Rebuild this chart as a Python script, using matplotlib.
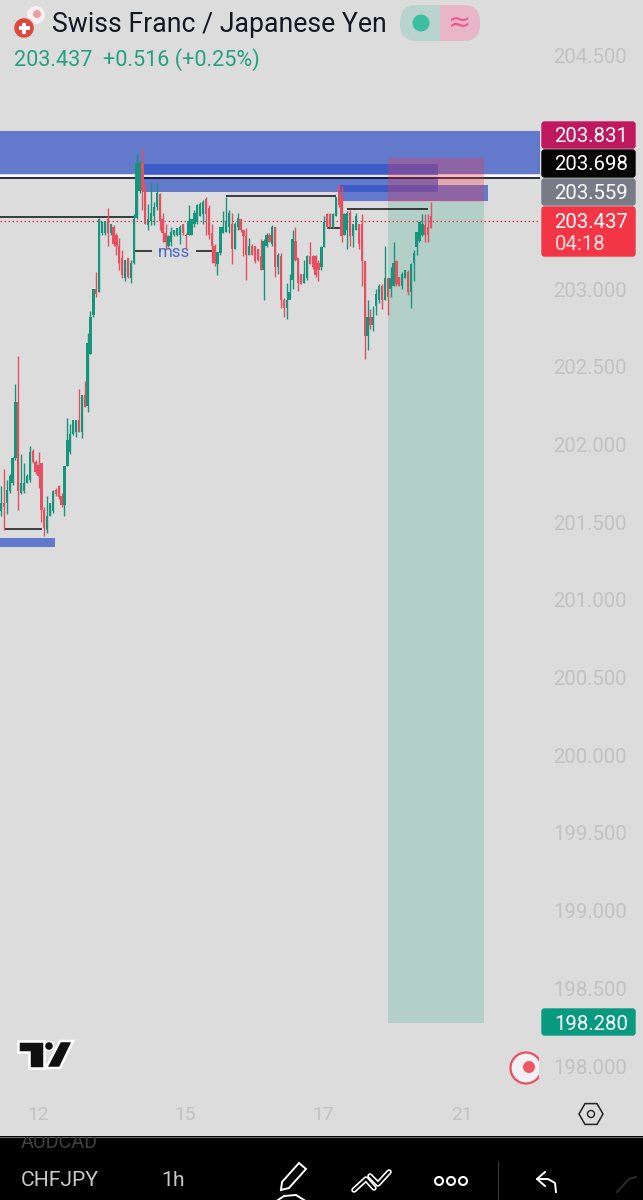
import matplotlib
matplotlib.use("Agg")
import matplotlib.pyplot as plt
import numpy as np
from matplotlib.patches import FancyBboxPatch, Rectangle, Circle, Polygon

plt.rcParams['font.family'] = ['Roboto', 'DejaVu Sans']

# ---------- data (prices) ----------
candle_high = [
 201.73,201.84,201.77,201.81,201.92,202.39,202.57,201.94,201.88,201.81,
 201.99,201.97,201.90,201.95,201.88,201.60,201.67,201.62,201.71,201.72,
 201.74,201.69,201.86,202.17,202.13,202.16,202.16,202.36,202.32,202.41,
 202.72,202.86,203.00,203.11,203.46,203.44,203.44,203.52,203.42,203.41,
 203.36,203.33,203.25,203.19,203.20,203.19,203.48,203.87,203.83,203.91,
 203.68,203.55,203.68,203.56,203.68,203.62,203.49,203.42,203.35,203.40,
 203.38,203.39,203.41,203.42,203.36,203.54,203.45,203.51,203.55,203.56,
 203.57,203.59,203.54,203.42,203.29,203.24,203.40,203.50,203.59,203.51,
 203.49,203.43,203.49,203.45,203.38,203.39,203.33,203.29,203.28,203.26,
 203.32,203.32,203.36,203.36,203.41,203.40,203.23,203.23,202.94,203.04,
 203.10,203.38,203.40,203.20,203.10,203.19,203.22,203.30,203.22,203.22,
 203.19,203.28,203.47,203.49,203.49,203.49,203.59,203.67,203.66,203.49,
 203.50,203.51,203.42,203.49,203.42,203.48,203.18,202.93,202.87,202.89,
 203.00,203.03,203.03,203.28,203.07,203.14,203.30,203.19,203.08,203.11,
 203.12,203.12,203.17,203.25,203.37,203.43,203.48,203.48,203.48,203.56]
candle_low = [
 201.54,201.45,201.55,201.69,201.74,201.90,201.58,201.68,201.69,201.75,
 201.76,201.88,201.81,201.72,201.50,201.41,201.43,201.54,201.56,201.67,
 201.65,201.60,201.54,201.86,201.94,202.06,202.05,202.08,202.04,202.24,
 202.21,202.58,202.82,202.95,202.98,203.35,203.35,203.28,203.35,203.28,
 203.22,203.12,203.07,203.05,203.07,203.04,203.16,203.45,203.62,203.51,
 203.42,203.38,203.41,203.41,203.51,203.38,203.30,203.26,203.27,203.28,
 203.34,203.34,203.29,203.35,203.26,203.35,203.35,203.40,203.42,203.47,
 203.42,203.35,203.32,203.17,203.15,203.09,203.22,203.36,203.37,203.36,
 203.16,203.26,203.38,203.37,203.21,203.06,203.22,203.22,203.17,203.18,
 203.12,202.93,203.27,203.30,203.28,203.08,203.10,202.88,202.82,202.81,
 202.94,203.00,203.18,202.99,203.03,203.04,203.06,203.16,203.13,203.08,
 203.05,203.12,203.27,203.39,203.39,203.39,203.47,203.53,203.30,203.35,
 203.26,203.28,203.27,203.38,203.26,203.02,202.55,202.61,202.74,202.73,
 202.83,202.91,202.87,202.93,202.83,202.95,203.02,203.02,203.02,203.00,
 203.07,202.96,202.88,203.05,203.22,203.30,203.34,203.30,203.30,203.39]
body_top = [
 201.62,201.62,201.71,201.80,201.91,202.27,202.27,201.75,201.75,201.80,
 201.95,201.96,201.89,201.87,201.88,201.58,201.54,201.62,201.70,201.71,
 201.73,201.67,201.86,202.03,202.07,202.16,202.16,202.16,202.32,202.32,
 202.65,202.82,203.00,203.00,203.45,203.43,203.44,203.45,203.42,203.40,
 203.35,203.28,203.20,203.19,203.20,203.17,203.45,203.81,203.81,203.81,
 203.63,203.45,203.49,203.53,203.62,203.61,203.45,203.36,203.34,203.37,
 203.38,203.39,203.40,203.42,203.35,203.44,203.45,203.49,203.54,203.55,
 203.56,203.58,203.52,203.36,203.28,203.24,203.40,203.40,203.44,203.49,
 203.42,203.42,203.46,203.45,203.38,203.34,203.28,203.28,203.28,203.26,
 203.21,203.31,203.35,203.35,203.40,203.40,203.22,203.21,202.93,202.93,
 202.98,203.32,203.31,203.20,203.10,203.10,203.21,203.21,203.21,203.21,
 203.17,203.27,203.43,203.48,203.48,203.48,203.59,203.66,203.59,203.48,
 203.49,203.49,203.42,203.47,203.42,203.42,203.18,202.82,202.82,202.82,
 202.97,203.02,203.02,203.07,203.07,203.07,203.17,203.18,203.08,203.10,
 203.12,203.11,203.16,203.23,203.37,203.43,203.42,203.41,203.40,203.47]
body_bottom = [
 201.57,201.60,201.62,201.70,201.75,201.91,201.70,201.69,201.70,201.75,
 201.77,201.89,201.82,201.80,201.58,201.46,201.45,201.54,201.57,201.68,
 201.66,201.61,201.61,201.86,201.95,202.07,202.08,202.08,202.08,202.24,
 202.25,202.58,202.83,202.97,202.98,203.36,203.36,203.36,203.36,203.29,
 203.28,203.17,203.09,203.07,203.08,203.07,203.17,203.46,203.63,203.63,
 203.42,203.41,203.44,203.47,203.53,203.44,203.36,203.30,203.28,203.30,
 203.35,203.35,203.35,203.36,203.34,203.35,203.35,203.42,203.43,203.47,
 203.48,203.48,203.35,203.28,203.17,203.16,203.23,203.36,203.37,203.40,
 203.26,203.26,203.40,203.38,203.34,203.22,203.22,203.22,203.18,203.19,
 203.12,203.12,203.28,203.30,203.29,203.14,203.14,202.93,202.88,202.88,
 202.93,203.06,203.19,203.04,203.03,203.04,203.07,203.16,203.14,203.09,
 203.12,203.14,203.27,203.40,203.40,203.40,203.47,203.54,203.34,203.35,
 203.38,203.34,203.34,203.38,203.29,203.18,202.70,202.70,202.77,202.77,
 202.89,202.93,202.93,202.93,202.95,203.00,203.02,203.03,203.02,203.02,
 203.07,202.98,202.98,203.17,203.27,203.31,203.35,203.35,203.35,203.39]
candle_dir = ("GRGGGGRGGG" "GRRRRRGGGR" "RRGGGGGRGR" "GGGRGGGRGR" "RRRGRGGGGR"
              "RGGGGRRRGG" "GGGRRGGGGG" "GRRRRGGGGG" "RGGRRRGRRR" "RGGRGRGRRG"
              "GGRRRGGRRR" "RGGRRGGRRG" "GRGGRRRGRG" "GGRGRGGRRG" "GRGGGGGRRR")

price_ticks = [204.5, 203.0, 202.5, 202.0, 201.5, 201.0, 200.5, 200.0, 199.5, 199.0, 198.5, 198.0]
date_labels = ["12", "15", "17", "21"]
date_positions = [12.8, 63.8, 111.6, 159.6]

stop_price, entry_price, target_price, last_price, line_price = 203.845, 203.559, 198.280, 203.44, 203.712

# (left bar, right bar, low price, high price)
zones = [(-0.35, 186.8, 203.74, 204.017),
         (48.9, 151.4, 203.625, 203.805),
         (117.1, 168.7, 203.567, 203.67),
         (-0.35, 18.7, 201.34, 201.40)]
# (left bar, right bar, price)
levels = [(-0.35, 46.1, 203.465), (78, 116, 203.60), (119.9, 148, 203.515),
          (113, 118.2, 203.39), (46.1, 52.3, 203.245), (67.6, 73.8, 203.245),
          (1, 14.2, 201.456)]

BG = "#dcdcdc"
GREEN, RED = "#15957c", "#e54f60"

# ---------- main chart ----------
fig = plt.figure(figsize=(6.43, 12.0), dpi=100, facecolor=BG)
ax = fig.add_axes([0, 0, 1, 1], facecolor=BG)
ax.set_xlim(-0.347, 222.44)
ax.set_ylim(197.138, 204.860)
for s in ax.spines.values():
    s.set_visible(False)

ax.yaxis.tick_right()
ax.set_yticks(price_ticks, [f"{p:.3f}" for p in price_ticks])
ax.set_xticks(date_positions, date_labels)
ax.tick_params(axis='y', length=0, pad=-64.5, labelsize=14.7, labelcolor="#c2c2c2")
ax.tick_params(axis='x', length=0, pad=-67.5, labelsize=13.8, labelcolor="#c2c2c2")

for x0, x1, lo, hi in zones:
    ax.add_patch(Rectangle((x0, lo), x1 - x0, hi - lo, fc="#2e4fc6", alpha=0.7, lw=0, zorder=1))

ax.hlines(203.728, -0.35, 186.8, color="white", lw=1.2, zorder=1.5)
ax.hlines(line_price, -0.35, 186.8, color="#0c0c28", lw=1.2, zorder=1.6)

box_l, box_r = 134.1, 167.4
ax.add_patch(Rectangle((box_l, entry_price), box_r - box_l, stop_price - entry_price,
                       fc="#f2384c", alpha=0.3, lw=0, zorder=2))
ax.add_patch(Rectangle((box_l, target_price), box_r - box_l, entry_price - target_price,
                       fc="#38ac90", alpha=0.25, lw=0, zorder=2))

for x0, x1, p in levels:
    ax.hlines(p, x0, x1, color="#111111", lw=1.1, zorder=2.5)
ax.hlines(last_price, -0.35, 186.8, color="#f23645", lw=0.9, linestyles=(0, (1.2, 2)), zorder=2.6)
ax.text(60, 203.235, "mss", color="#4a66cc", fontsize=12.2, ha="center", va="center", zorder=3)

idx = np.arange(len(candle_high))
cols = [GREEN if d == "G" else RED for d in candle_dir]
ax.vlines(idx, candle_low, candle_high, colors=cols, lw=1.0, zorder=3)
ax.bar(idx, np.array(body_top) - np.array(body_bottom), bottom=body_bottom,
       width=0.8, color=cols, lw=0, zorder=3.1)

# ---------- interface layer in pixel coordinates ----------
ui = fig.add_axes([0, 0, 1, 1], facecolor="none")
ui.set_xlim(0, 643)
ui.set_ylim(1200, 0)
ui.axis("off")

def tag(y0, y1, color):
    ui.add_patch(FancyBboxPatch((542, y0 + 1), 93, y1 - y0 - 2, boxstyle="round,pad=0,rounding_size=2.5",
                                mutation_aspect=1, fc=color, ec=color, lw=1))

tag(121, 149, "#c0185e"); tag(149, 178, "#050505"); tag(178, 206, "#787b86")
tag(206, 257, "#f23645"); tag(1008, 1036, "#089981")
for txt, y in [("203.831", 136.5), ("203.698", 165), ("203.559", 193.5), ("203.437", 222.5), ("198.280", 1024)]:
    ui.text(591, y, txt, color="white", fontsize=14.7, ha="center", va="center")
ui.text(555, 245, "04:18", color="#fbdcdf", fontsize=14.7, ha="left", va="center")

# header
ui.text(52, 24, "Swiss Franc / Japanese Yen", color="#131722", fontsize=19.2, ha="left", va="center")
ui.text(14, 60, "203.437", color="#26a17f", fontsize=15.6, ha="left", va="center")
ui.text(103, 60, "+0.516 (+0.25%)", color="#26a17f", fontsize=15.6, ha="left", va="center")
ui.add_patch(Circle((36, 15), 9, fc="#f6f0f0", ec="none"))
ui.add_patch(Circle((37, 14), 4, fc="#ef9aa0", ec="none"))
ui.add_patch(Circle((24, 28), 10.5, fc="#e0483e", ec="#dcdcdc", lw=1))
ui.add_patch(Rectangle((18.5, 26), 11, 4, fc="white", lw=0))
ui.add_patch(Rectangle((22, 22.5), 4, 11, fc="white", lw=0))
ui.add_patch(FancyBboxPatch((400, 5), 80, 36, boxstyle="round,pad=0,rounding_size=17", fc="#b9d3cf", ec="none"))
pink = FancyBboxPatch((400, 5), 80, 36, boxstyle="round,pad=0,rounding_size=17", fc="#e9b6c8", ec="none")
ui.add_patch(pink)
pink.set_clip_path(Rectangle((440, 0), 60, 60, transform=ui.transData))
ui.add_patch(Circle((421, 23), 8.5, fc="#3dbf9f", ec="none"))
ui.text(459, 23, "≈", color="#ef5a94", fontsize=20, ha="center", va="center", family=["DejaVu Sans"])

# TradingView logo
for pts in ([(18, 1041), (44, 1041), (44, 1068), (29, 1068), (29, 1052), (18, 1052)],
            [(60, 1041), (73, 1041), (60, 1068), (46, 1068)]):
    ui.add_patch(Polygon(pts, closed=True, fc="#101010", ec="white", lw=1.8, joinstyle="miter"))
ui.add_patch(Circle((49, 1046), 4.5, fc="#101010", ec="white", lw=1.0))

# record button
ring = Circle((526, 1068), 15.5, fc="#f1f1f5", ec="#e8505f", lw=1.6)
ui.add_patch(ring)
ring.set_clip_path(Rectangle((500, 1040), 39, 60, transform=ui.transData))
ui.add_patch(Circle((529, 1067), 6, fc="#f25564", ec="none"))

# settings hexagon
ang = np.deg2rad(np.arange(0, 360, 60))
ui.add_patch(Polygon(np.c_[591 + 12 * np.cos(ang), 1114 + 12 * np.sin(ang)], closed=True,
                     fc="none", ec="#222222", lw=1.1))
ui.add_patch(Circle((591, 1114), 3.5, fc="none", ec="#222222", lw=1.0))

# toolbar
ui.add_patch(Rectangle((0, 1136), 643, 64, fc="#000000", lw=0))
aud = ui.text(21, 1143, "AUDCAD", color="#3f3f3f", fontsize=14.2, ha="left", va="center", clip_on=True)
aud.set_clip_path(Rectangle((0, 1137), 200, 20, transform=ui.transData))
ui.plot([0, 643], [1136.5, 1136.5], color="#6a6a6a", lw=0.8)
ui.text(21, 1181, "CHFJPY", color="#c9c9c9", fontsize=15.2, ha="left", va="center")
ui.text(173, 1181, "1h", color="#c9c9c9", fontsize=15.2, ha="center", va="center")
ui.add_patch(Polygon([(282, 1182), (299, 1163), (306, 1169), (289, 1188), (281, 1190)], closed=True,
                     fc="none", ec="white", lw=1.4))
ui.plot([278, 284, 296, 304], [1200, 1196, 1195, 1200], color="white", lw=1.4)
ui.plot([354, 366, 374], [1190, 1179, 1188], color="white", lw=4, solid_capstyle="round")
ui.plot([354, 366, 374], [1190, 1179, 1188], color="black", lw=1.6, solid_capstyle="round")
ui.plot([370, 378, 389], [1176, 1184, 1172], color="white", lw=4, solid_capstyle="round")
ui.plot([370, 378, 389], [1176, 1184, 1172], color="black", lw=1.6, solid_capstyle="round")
for cx in (439, 451, 463):
    ui.add_patch(Circle((cx, 1181), 4, fc="none", ec="white", lw=1.5))
ui.plot([498, 498], [1162, 1200], color="#3a3a3a", lw=0.8)
ui.plot([545, 537, 545], [1172, 1179, 1186], color="white", lw=1.4)
ui.plot([537, 548, 555, 556], [1179, 1179, 1183, 1192], color="white", lw=1.4)
ui.plot([617, 629, 636], [1192, 1179, 1177], color="#2c2c2c", lw=1.4)

fig.savefig("out.png", dpi=100, facecolor=BG)
